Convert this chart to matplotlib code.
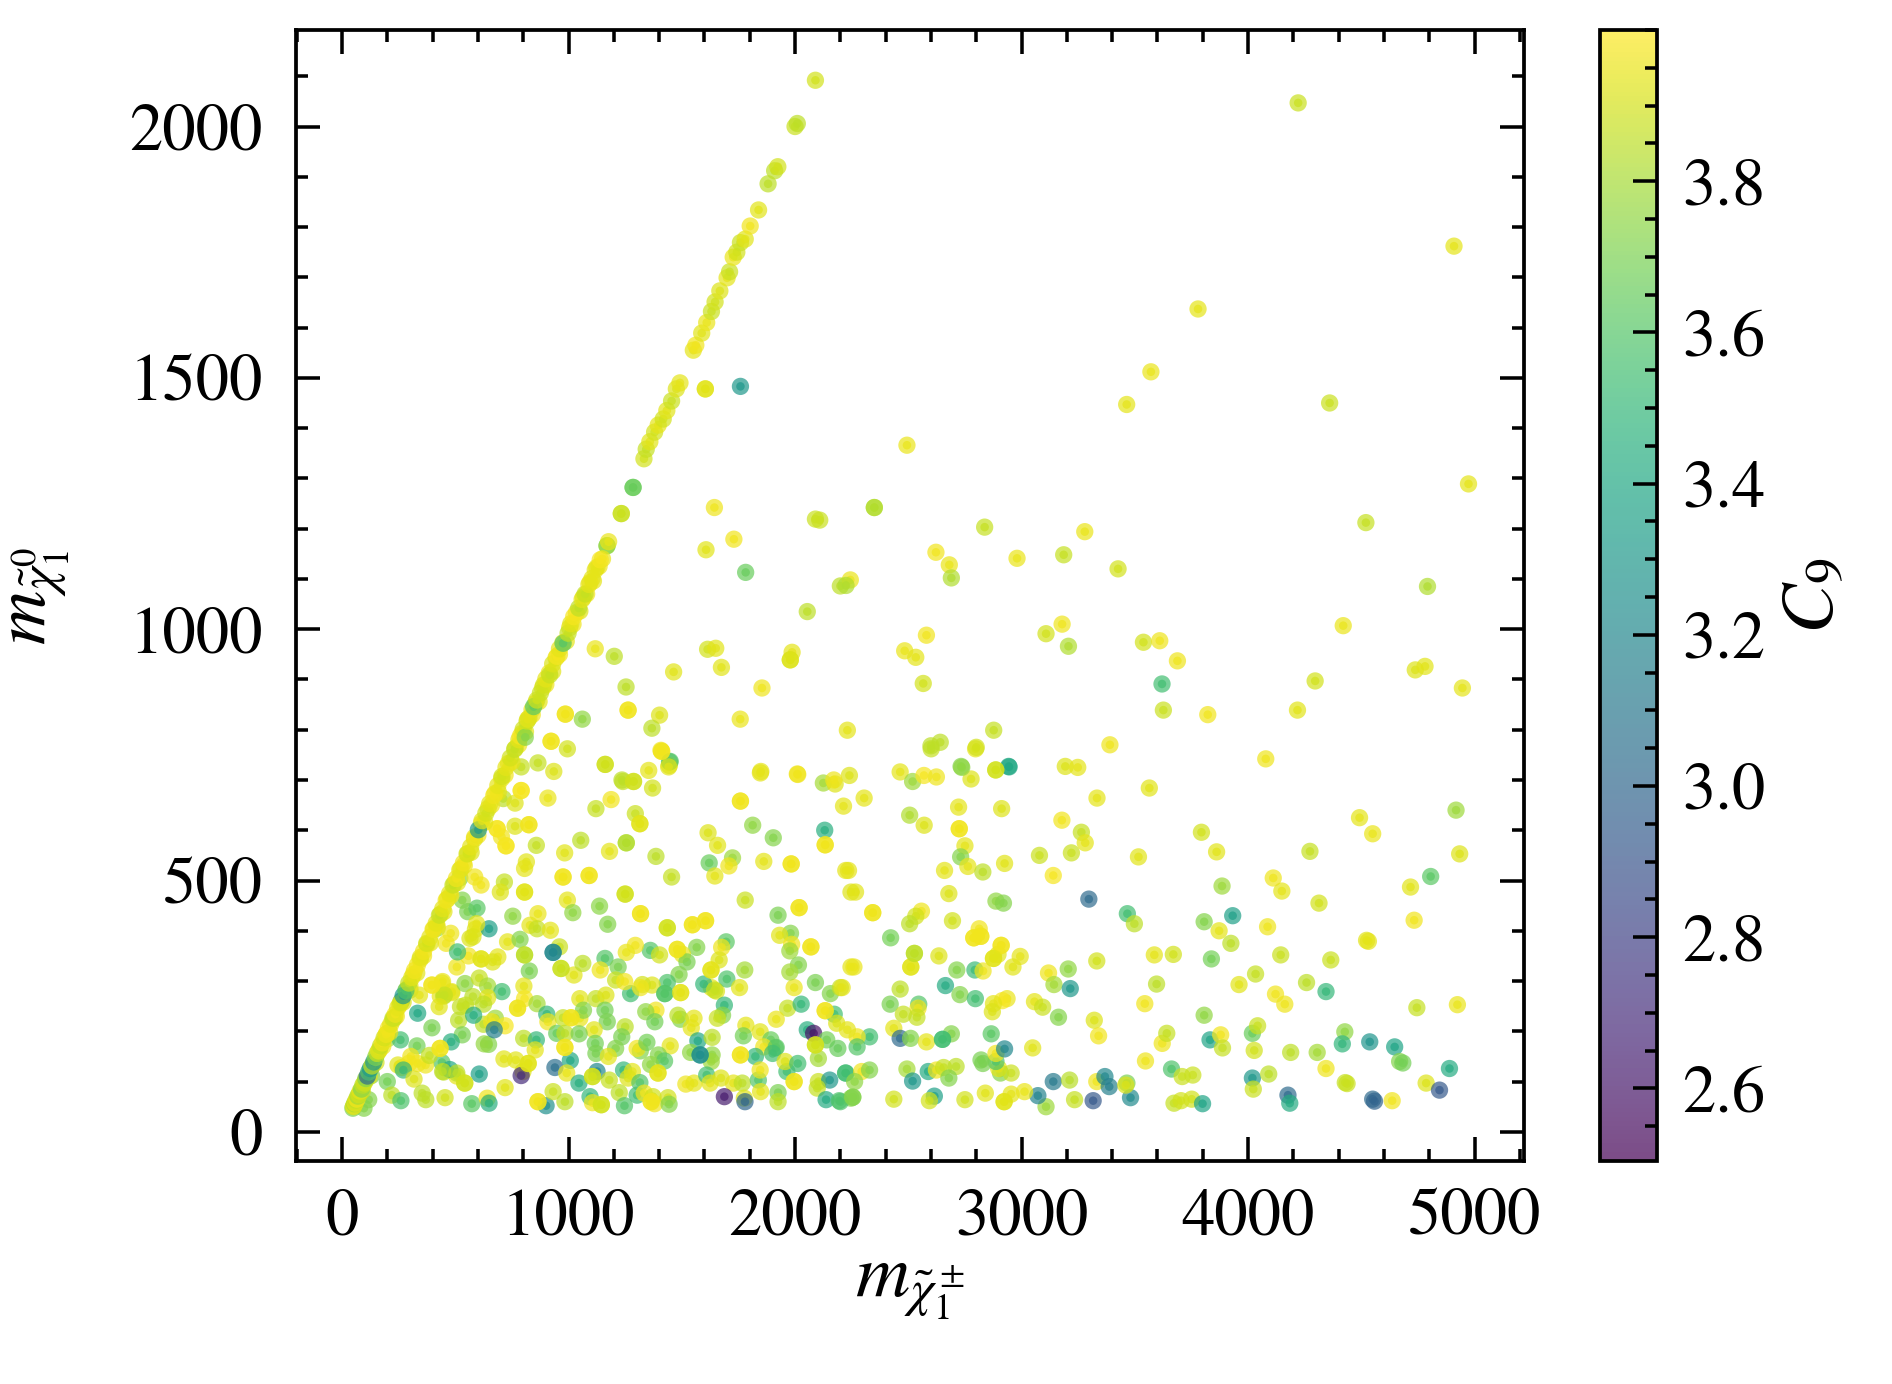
import numpy as np
import matplotlib
matplotlib.use("Agg")
import matplotlib.pyplot as plt
from matplotlib.ticker import MultipleLocator

plt.rcParams["font.family"] = "STIXGeneral"
plt.rcParams["mathtext.fontset"] = "stix"

# points sitting on the m_chi0 = m_chipm edge
diag_x = [48, 50, 52, 55, 58, 62, 66, 70, 75, 80, 86, 92, 98, 105, 112, 118, 125, 132, 140, 148,
          155, 162, 170, 178, 186, 195, 205, 215, 225, 235, 246, 258, 270, 282, 295, 308, 320, 333, 346, 360,
          374, 388, 402, 416, 430, 445, 460, 475, 490, 505, 520, 536, 552, 568, 585, 602, 618, 635, 652, 670]
diag_y = [47, 50, 51, 56, 57, 63, 65, 71, 74, 81, 85, 93, 97, 106, 111, 119, 126, 131, 139, 148,
          156, 161, 171, 177, 187, 194, 206, 214, 226, 234, 247, 257, 271, 281, 296, 307, 321, 332, 347, 359,
          375, 387, 403, 415, 431, 444, 461, 474, 491, 504, 521, 535, 553, 567, 586, 601, 619, 634, 653, 669]
diag_c = [3.7, 3.87, 3.94, 3.8, 3.94, 3.87, 3.97, 3.8, 3.9, 3.94, 3.72, 3.87, 3.9, 3.72, 3.02, 3.58, 3.3, 3.87, 3.3, 3.72,
          3.87, 3.94, 3.87, 3.97, 3.9, 3.97, 3.97, 3.94, 3.87, 3.97, 3.94, 3.9, 3.3, 3.58, 3.87, 3.94, 3.97, 3.97, 3.94, 3.97,
          3.9, 3.94, 3.97, 3.94, 3.87, 3.94, 3.97, 3.94, 3.87, 3.97, 3.94, 3.97, 3.9, 3.94, 3.97, 3.3, 3.94, 3.9, 3.94, 3.97]

diag2_x = [688, 706, 724, 743, 762, 781, 787, 800, 809, 817, 820, 839, 846, 860, 876, 890, 900, 917, 930, 949,
           960, 976, 998, 1010, 1023, 1045, 1060, 1073, 1090, 1104, 1118, 1140, 1177, 1233, 1285, 1333, 1343, 1359, 1380, 1396,
           1418, 1434, 1455, 1476, 1492, 1551, 1562, 1588, 1610, 1631, 1647, 1668, 1700, 1711, 1727, 1743, 1759, 1780, 1802, 1839,
           1881, 1910, 1924, 2000, 2010, 2090]
diag2_y = [689, 707, 725, 744, 761, 780, 787, 801, 785, 817, 821, 840, 846, 859, 873, 889, 901, 909, 931, 946,
           961, 972, 992, 1011, 1025, 1042, 1059, 1070, 1089, 1101, 1118, 1138, 1174, 1230, 1282, 1339, 1358, 1373, 1392, 1406,
           1418, 1435, 1454, 1478, 1490, 1555, 1565, 1589, 1610, 1632, 1651, 1673, 1699, 1711, 1740, 1750, 1769, 1776, 1802, 1834,
           1886, 1912, 1920, 2000, 2006, 2092]
diag2_c = [3.94, 3.9, 3.94, 3.9, 3.87, 3.94, 3.98, 3.9, 3.72, 3.88, 3.94, 3.94, 3.62, 3.9, 3.88, 3.9, 3.94, 3.87, 3.92, 3.98,
           3.94, 3.6, 3.87, 3.94, 3.98, 3.85, 3.94, 3.87, 3.94, 3.94, 3.94, 3.98, 3.95, 3.88, 3.65, 3.9, 3.87, 3.93, 3.9, 3.94,
           3.9, 3.93, 3.88, 3.92, 3.94, 3.94, 3.97, 3.93, 3.95, 3.88, 3.9, 3.92, 3.94, 3.88, 3.95, 3.9, 3.88, 3.93, 3.97, 3.93,
           3.85, 3.85, 3.9, 3.88, 3.85, 3.9]

# bright band along the edge, drawn last
diag3_x = [90, 120, 150, 180, 210, 240, 270, 300, 330, 360, 390, 420, 450, 480, 510, 540, 570, 600, 630, 660,
           690, 720, 750, 780, 810, 840, 870, 900, 930, 960, 990, 1020, 1050, 1080, 1110, 1135, 1150, 105, 135, 165,
           195, 225, 255, 285, 315, 345, 375, 405, 435, 465, 495, 525, 555, 585, 615, 645, 675, 705, 735, 765,
           795, 825, 855, 885, 915, 945, 975, 1005, 1035, 1065, 1095, 1125]
diag3_y = [82, 110, 138, 170, 198, 230, 258, 290, 316, 350, 376, 410, 438, 470, 496, 530, 556, 590, 616, 650,
           676, 710, 736, 770, 796, 830, 856, 890, 916, 950, 976, 1010, 1036, 1070, 1096, 1125, 1140, 103, 133, 163,
           193, 223, 253, 283, 313, 343, 373, 403, 433, 463, 493, 523, 553, 583, 613, 643, 673, 703, 733, 763,
           793, 823, 853, 883, 913, 943, 973, 1003, 1033, 1063, 1093, 1123]
diag3_c = [3.88, 3.93, 3.9, 3.96, 3.93, 3.97, 3.92, 3.96, 3.93, 3.97, 3.94, 3.96, 3.93, 3.97, 3.94, 3.96, 3.92, 3.97, 3.94, 3.96,
           3.93, 3.97, 3.94, 3.96, 3.92, 3.97, 3.94, 3.96, 3.93, 3.97, 3.94, 3.96, 3.92, 3.97, 3.94, 3.96, 3.95, 3.9, 3.88, 3.94,
           3.96, 3.93, 3.97, 3.94, 3.96, 3.92, 3.97, 3.94, 3.96, 3.93, 3.97, 3.94, 3.96, 3.92, 3.97, 3.94, 3.96, 3.93, 3.97, 3.94,
           3.96, 3.92, 3.97, 3.94, 3.96, 3.93, 3.97, 3.94, 3.96, 3.92, 3.97, 3.94]

# solid looking points (several models on top of each other)
stack_x = [1162, 1287, 791, 1315, 1759, 685, 724, 825, 1255, 2133, 1983, 976, 1091, 806, 1250, 1318, 2018, 1436, 1547, 1605,
           2070, 1629, 1480, 932, 614, 806, 967, 1425, 1495, 397, 775, 1011, 2133, 433, 984, 1581, 2090, 822, 1759, 1395,
           1106, 1996, 542, 865, 1145, 1365, 986, 1263, 923, 1411, 2350, 2343, 2725, 2789, 2820, 2910, 2876, 2511, 2527, 2651,
           2886, 2923, 2255, 1604, 1979, 1170]
stack_y = [731, 697, 679, 613, 658, 603, 569, 611, 575, 571, 533, 507, 510, 477, 473, 434, 446, 406, 412, 420,
           368, 322, 363, 357, 344, 352, 325, 275, 277, 292, 246, 227, 241, 166, 168, 153, 173, 136, 153, 117,
           110, 100, 97, 60, 54, 60, 831, 839, 777, 757, 1242, 436, 603, 386, 389, 371, 345, 328, 355, 184,
           720, 60, 69, 1478, 939, 1166]
stack_c = [3.89, 3.89, 3.98, 3.93, 3.97, 3.98, 3.98, 3.97, 3.83, 3.97, 3.97, 3.97, 3.97, 3.93, 3.9, 3.97, 3.97, 3.9, 3.97, 3.97,
           3.97, 3.94, 3.96, 3.2, 3.93, 3.85, 3.88, 3.6, 3.94, 3.97, 3.96, 3.96, 3.97, 3.97, 3.97, 3.25, 3.9, 3.93, 3.97, 3.94,
           3.9, 3.96, 3.9, 3.97, 3.9, 3.97, 3.97, 3.97, 3.97, 3.97, 3.83, 3.96, 3.97, 3.97, 3.97, 3.97, 3.93, 3.93, 3.85, 3.55,
           3.9, 3.93, 3.72, 3.93, 3.92, 3.75]

# x below 2250, y above 400
up_x = [791, 865, 935, 1354, 1449, 1445, 1408, 1240, 1371, 1849, 2010, 2125, 2177, 2240, 2214, 909, 1121, 1188, 1295, 712,
        764, 704, 764, 858, 1054, 983, 1181, 1386, 1616, 1658, 1813, 1904, 2131, 1621, 1724, 1708, 1646, 1862, 2224, 814,
        806, 1455, 586, 614, 717, 699, 995, 1019, 1137, 1780, 1925, 2247, 531, 555, 596, 754, 865, 1173, 830, 861,
        920, 649, 594, 1285, 1233, 1644, 2109, 1730, 1607, 1782, 2200, 2054, 1118, 1202, 1614, 1650, 1987, 1675, 1464, 1254,
        1854, 1061, 1402, 1368, 1758, 995, 1446, 1442, 1847, 2012, 1236, 2171]
up_y = [726, 734, 717, 719, 737, 729, 759, 697, 684, 717, 712, 694, 692, 709, 648, 664, 643, 661, 633, 663,
        654, 587, 608, 570, 580, 555, 558, 548, 595, 570, 610, 585, 600, 535, 545, 529, 509, 538, 520, 537,
        524, 507, 507, 491, 497, 477, 461, 436, 449, 461, 431, 477, 461, 438, 445, 429, 434, 413, 411, 404,
        401, 404, 414, 1282, 1230, 1242, 1217, 1179, 1158, 1113, 1086, 1035, 961, 946, 960, 962, 954, 924, 915, 885,
        883, 821, 829, 803, 821, 762, 736, 726, 714, 711, 700, 700]
up_c = [3.87, 3.87, 3.92, 3.94, 3.6, 3.92, 3.97, 3.87, 3.9, 3.94, 3.96, 3.8, 3.92, 3.92, 3.94, 3.95, 3.87, 3.97, 3.88, 3.85,
        3.92, 3.97, 3.92, 3.87, 3.85, 3.93, 3.94, 3.85, 3.92, 3.93, 3.75, 3.72, 3.45, 3.65, 3.78, 3.96, 3.94, 3.94, 3.94, 3.93,
        3.94, 3.87, 3.97, 3.97, 3.87, 3.92, 3.94, 3.75, 3.74, 3.88, 3.7, 3.92, 3.72, 3.7, 3.62, 3.75, 3.95, 3.72, 3.94, 3.87,
        3.94, 3.35, 3.94, 3.68, 3.88, 3.96, 3.88, 3.97, 3.93, 3.65, 3.85, 3.85, 3.95, 3.85, 3.9, 3.93, 3.94, 3.93, 3.93, 3.85,
        3.96, 3.75, 3.92, 3.85, 3.95, 3.9, 3.6, 3.93, 3.94, 3.97, 3.85, 3.96]

# x below 2250, y between 250 and 400
mid_x = [1980, 1932, 1985, 1977, 1696, 1676, 1665, 1566, 1503, 1523, 1361, 1402, 1295, 1255, 960, 688, 665, 558, 507, 480,
         460, 565, 578, 510, 731, 786, 1024, 1063, 1161, 1140, 1219, 827, 1778, 1699, 1597, 1645, 1755, 2015, 2247, 1488,
         1436, 1369, 1326, 1274, 1318, 1208, 1248, 444, 484, 452, 543, 606, 643, 706, 803, 1996, 2090, 2156, 2200, 578,
         643, 342, 263, 806, 861, 1050, 1121, 1165, 625, 1977]
mid_y = [395, 391, 373, 360, 378, 367, 342, 367, 353, 338, 361, 352, 371, 357, 368, 348, 338, 350, 328, 395,
         375, 385, 388, 358, 378, 383, 312, 335, 345, 322, 328, 320, 322, 304, 294, 282, 287, 332, 328, 313,
         297, 292, 293, 275, 287, 302, 299, 299, 279, 272, 295, 306, 290, 279, 290, 287, 297, 275, 287, 269,
         267, 272, 261, 265, 255, 265, 265, 272, 254, 318]
mid_c = [3.72, 3.93, 3.97, 3.78, 3.62, 3.96, 3.92, 3.72, 3.94, 3.7, 3.6, 3.9, 3.97, 3.95, 3.88, 3.94, 3.92, 3.97, 3.96, 3.96,
         3.97, 3.92, 3.92, 3.55, 3.94, 3.72, 3.93, 3.85, 3.6, 3.96, 3.7, 3.7, 3.8, 3.58, 3.5, 3.87, 3.93, 3.72, 3.94, 3.72,
         3.58, 3.92, 3.9, 3.55, 3.96, 3.88, 3.97, 3.95, 3.94, 3.87, 3.75, 3.87, 3.8, 3.55, 3.94, 3.95, 3.7, 3.72, 3.87, 3.85,
         3.93, 3.94, 3.2, 3.98, 3.8, 3.93, 3.87, 3.92, 3.85, 3.8]

# x below 2250, y below 250
low_x = [429, 546, 523, 1161, 1386, 1341, 904, 909, 976, 1050, 1066, 1483, 1554, 1542, 334, 1688, 1680, 1657, 1783, 1967,
         2027, 2173, 2184, 1917, 1381, 1171, 1113, 1250, 515, 581, 677, 720, 661, 672, 397, 232, 200, 531, 258, 331,
         482, 628, 802, 858, 853, 948, 984, 1047, 1118, 1121, 1235, 1208, 1176, 1303, 1346, 1449, 1571, 1634, 1539, 1634,
         1630, 1772, 1846, 1893, 1862, 1917, 1901, 1825, 2054, 2082, 2140, 2189, 2103, 304, 247, 295, 334, 369, 386, 271,
         476, 444, 507, 318, 200, 606, 715, 767, 799, 791, 940, 1008, 992, 1126, 1243, 1282, 1263, 1397, 1424, 1362,
         1315, 1180, 1046, 1224, 1518, 1554, 1610, 1625, 1673, 1728, 1767, 1838, 1846, 1964, 1956, 2012, 2103, 2153, 2224, 2098]
low_y = [249, 252, 249, 242, 242, 239, 234, 219, 227, 226, 242, 232, 226, 207, 236, 252, 232, 226, 212, 246,
         254, 234, 216, 224, 219, 219, 203, 209, 222, 232, 226, 211, 219, 203, 207, 227, 196, 193, 183, 171,
         179, 175, 186, 183, 163, 196, 196, 195, 176, 156, 189, 166, 150, 166, 178, 171, 181, 188, 158, 153,
         140, 191, 199, 183, 169, 168, 156, 150, 203, 196, 183, 166, 146, 150, 133, 136, 136, 133, 152, 123,
         124, 120, 117, 105, 100, 115, 145, 143, 120, 112, 128, 142, 117, 120, 123, 120, 107, 153, 141, 134,
         98, 103, 97, 78, 95, 97, 113, 97, 107, 97, 97, 103, 123, 120, 140, 136, 100, 103, 117, 87]
low_c = [3.93, 3.87, 3.87, 3.68, 3.97, 3.75, 3.5, 3.96, 3.87, 3.95, 3.72, 3.85, 3.94, 3.94, 3.4, 3.5, 3.72, 3.88, 3.94, 3.87,
         3.5, 3.55, 3.92, 3.95, 3.68, 3.7, 3.93, 3.85, 3.85, 3.45, 3.78, 3.98, 3.97, 3.15, 3.7, 3.82, 3.97, 3.7, 3.55, 3.68,
         3.45, 3.76, 3.85, 3.5, 3.94, 3.65, 3.85, 3.7, 3.68, 3.7, 3.7, 3.72, 3.94, 3.97, 3.68, 3.94, 3.4, 3.85, 3.75, 3.75,
         3.78, 3.68, 3.93, 3.65, 3.97, 3.62, 3.55, 3.5, 3.45, 2.58, 3.68, 3.65, 3.8, 3.96, 3.93, 3.97, 3.97, 3.96, 3.87, 3.5,
         3.4, 3.85, 3.85, 3.92, 3.68, 3.35, 3.93, 3.93, 3.92, 2.7, 3.05, 3.4, 3.95, 3.2, 3.5, 3.94, 3.92, 3.72, 3.62, 3.75,
         3.6, 3.87, 3.45, 3.85, 3.96, 3.94, 3.55, 3.94, 3.92, 3.94, 3.85, 3.6, 3.96, 3.55, 3.92, 3.55, 3.88, 3.3, 3.52, 3.87]

# lowest row, y below 90
floor_x = [1848, 1925, 1925, 1688, 1776, 1779, 2137, 2195, 2247, 720, 354, 370, 220, 260, 118, 97, 455, 573, 641, 649,
           901, 932, 984, 1095, 1106, 1247, 1303, 1334, 1373, 1380, 1439, 1444]
floor_y = [80, 78, 60, 70, 67, 60, 64, 62, 67, 88, 77, 64, 73, 62, 64, 47, 68, 56, 67, 57,
           52, 80, 60, 70, 58, 52, 73, 77, 70, 56, 68, 55]
floor_c = [3.94, 3.7, 3.85, 2.62, 3.92, 3.0, 3.42, 3.58, 3.72, 3.93, 3.85, 3.85, 3.85, 3.58, 3.72, 3.72, 3.9, 3.62, 3.96, 3.45,
           3.25, 3.88, 3.85, 3.5, 3.96, 3.6, 3.55, 3.97, 3.9, 3.97, 3.9, 3.72]

# picked up on the second look at the dense corner
extra_x = [265, 441, 449, 507, 434, 485, 449, 625, 647, 589, 1494, 1630, 1653, 1317, 1913, 441, 130, 200, 300, 420, 520]
extra_y = [128, 138, 119, 111, 270, 277, 270, 214, 174, 403, 224, 287, 280, 161, 167, 296, 112, 185, 282, 405, 505]
extra_c = [3.96, 3.6, 3.85, 3.94, 3.94, 3.93, 3.87, 3.85, 3.72, 3.92, 3.72, 3.94, 3.92, 3.72, 3.62, 3.94, 3.72, 3.8, 3.72, 3.8, 3.72]

# x from 2250 to 3000
right_x = [2601, 2797, 2464, 2519, 2569, 2624, 2733, 2777, 2943, 2305, 2506, 2570, 2722, 2912, 2750, 2731, 2763, 2829, 2925, 2660,
           2236, 2679, 2267, 2558, 2533, 2506, 2695, 2887, 2920, 2422, 2635, 2260, 2714, 2794, 2830, 2664, 2728, 2796, 2464, 2208,
           2813, 2896, 2994, 2962, 2936, 2915, 2876, 2871, 2420, 2546, 2543, 2478, 2538, 2436, 2464, 2510, 2580, 2690, 2866, 2329,
           2274, 2274, 2231, 2907, 2899, 2887, 2829, 2821, 2887, 2925, 2494, 2588, 2624, 2656, 2711, 2679, 2519, 2223, 2294, 2329,
           2263, 2954, 2840, 2615, 2436, 2200, 2954, 2593, 2750]
right_y = [762, 762, 716, 697, 709, 706, 727, 702, 727, 664, 630, 610, 646, 643, 569, 547, 528, 517, 534, 520,
           520, 474, 477, 439, 429, 414, 420, 459, 455, 386, 350, 328, 322, 322, 320, 291, 273, 265, 284, 287,
           404, 353, 349, 328, 265, 261, 255, 239, 254, 254, 246, 234, 228, 206, 186, 186, 179, 195, 195, 189,
           189, 169, 203, 117, 126, 140, 136, 143, 156, 165, 125, 120, 123, 128, 130, 107, 101, 117, 120, 123,
           100, 117, 77, 71, 65, 60, 75, 62, 64]
right_c = [3.87, 3.94, 3.94, 3.78, 3.98, 3.96, 3.72, 3.92, 3.4, 3.94, 3.82, 3.92, 3.94, 3.92, 3.94, 3.72, 3.94, 3.85, 3.93, 3.94,
           3.94, 3.92, 3.93, 3.96, 3.9, 3.85, 3.9, 3.75, 3.72, 3.68, 3.92, 3.95, 3.72, 3.52, 3.96, 3.42, 3.72, 3.55, 3.85, 3.94,
           3.97, 3.93, 3.94, 3.93, 3.95, 3.98, 3.94, 3.92, 3.7, 3.6, 3.97, 3.87, 3.87, 3.94, 3.02, 3.72, 3.94, 3.72, 3.62, 3.55,
           3.96, 3.6, 3.94, 3.72, 3.94, 3.58, 3.7, 3.7, 3.97, 3.2, 3.8, 3.42, 3.97, 3.87, 3.85, 3.72, 3.3, 3.55, 3.97, 3.72,
           3.75, 3.88, 3.93, 3.35, 3.9, 3.58, 3.94, 3.9, 3.9]

# x above 3000, y below 700
far_x = [3178, 3264, 3281, 3220, 3079, 3140, 3516, 3794, 3861, 4111, 4149, 4313, 4273, 4492, 4550, 3297, 3467, 3498, 3885, 3932,
         3806, 3872, 3924, 3838, 3960, 4033, 4144, 4086, 4365, 4523, 4121, 4162, 4258, 4344, 3806, 3586, 3670, 3596, 3544, 3321,
         3340, 3332, 3119, 3143, 3206, 3215, 3057, 3093, 3163, 3049, 3621, 3641, 3832, 3879, 3887, 4019, 4042, 4027, 4188, 4305,
         4427, 4416, 4537, 4647, 4669, 3547, 3662, 3709, 3756, 4019, 4091, 4344, 4429, 4023, 4176, 4184, 4550, 4636, 3673, 3704,
         3751, 3799, 3481, 3316, 3234, 3108, 3072, 3013, 3140, 3212, 3332, 3368, 3387, 3465, 3460, 4918, 4934, 4806, 4717, 4733,
         4531, 4924, 4745, 4683, 4889, 4786, 4845, 4558, 4437, 3564, 3333]
far_y = [620, 596, 575, 555, 550, 510, 547, 596, 557, 505, 479, 455, 558, 625, 593, 463, 434, 414, 489, 430,
         418, 400, 375, 344, 293, 314, 352, 408, 342, 381, 274, 254, 297, 279, 232, 352, 353, 294, 255, 222,
         191, 340, 316, 293, 324, 285, 259, 248, 228, 167, 176, 196, 183, 193, 167, 196, 211, 162, 158, 158,
         199, 175, 179, 169, 140, 141, 125, 110, 113, 107, 115, 126, 98, 85, 73, 57, 65, 62, 57, 62,
         65, 56, 68, 62, 64, 50, 72, 80, 100, 103, 100, 110, 90, 97, 93, 640, 553, 508, 487, 421,
         379, 253, 247, 137, 126, 97, 83, 61, 96, 684, 664]
far_c = [3.97, 3.87, 3.94, 3.88, 3.88, 3.98, 3.93, 3.9, 3.93, 3.96, 3.94, 3.9, 3.87, 3.94, 3.95, 3.02, 3.55, 3.85, 3.78, 3.35,
         3.72, 3.94, 3.85, 3.68, 3.93, 3.87, 3.88, 3.96, 3.88, 3.93, 3.97, 3.96, 3.85, 3.5, 3.75, 3.94, 3.9, 3.85, 3.97, 3.92,
         3.97, 3.9, 3.96, 3.8, 3.75, 3.3, 3.94, 3.88, 3.72, 3.93, 3.96, 3.87, 3.38, 3.97, 3.87, 3.65, 3.88, 3.9, 3.85, 3.8,
         3.75, 3.48, 3.28, 3.38, 3.72, 3.96, 3.58, 3.88, 3.88, 3.3, 3.85, 3.96, 3.87, 3.88, 3.02, 3.42, 3.02, 3.97, 3.87, 3.9,
         3.9, 3.38, 3.22, 2.92, 3.87, 3.78, 3.18, 3.95, 3.12, 3.84, 3.96, 3.2, 3.15, 3.7, 3.92, 3.78, 3.92, 3.62, 3.93, 3.97,
         3.94, 3.95, 3.87, 3.68, 3.42, 3.92, 2.92, 2.98, 3.88, 3.93, 3.94]

# sparse top right corner
top_x = [2600, 3193, 3248, 3390, 4078, 2736, 2945, 2837, 3279, 2622, 2681, 2690, 2980, 3186, 3426, 2244, 2225, 3179, 3108, 3207,
         2580, 2484, 2533, 2566, 3538, 3610, 3688, 3620, 4296, 3626, 3822, 4218, 4420, 2877, 2641, 2800, 2231, 4221, 4909, 3779,
         3571, 3464, 4360, 4973, 4520, 2494, 4738, 4781, 4946, 4792, 1759, 2090]
top_y = [768, 727, 725, 770, 742, 725, 726, 1203, 1194, 1153, 1128, 1102, 1141, 1148, 1120, 1098, 1087, 1010, 991, 966,
         988, 957, 944, 892, 974, 977, 937, 891, 897, 839, 830, 839, 1007, 799, 775, 765, 799, 2047, 1762, 1637,
         1512, 1447, 1450, 1289, 1212, 1366, 919, 926, 883, 1085, 1483, 1219]
top_c = [3.85, 3.92, 3.94, 3.96, 3.96, 3.75, 3.4, 3.87, 3.95, 3.97, 3.95, 3.82, 3.95, 3.87, 3.9, 3.95, 3.82, 3.96, 3.9, 3.82,
         3.97, 3.95, 3.94, 3.9, 3.9, 3.96, 3.96, 3.55, 3.9, 3.88, 3.97, 3.93, 3.95, 3.87, 3.85, 3.9, 3.94, 3.88, 3.94, 3.94,
         3.95, 3.94, 3.88, 3.94, 3.87, 3.95, 3.92, 3.93, 3.94, 3.82, 3.3, 3.88]

groups = [
    (extra_x, extra_y, extra_c),
    (up_x, up_y, up_c),
    (mid_x, mid_y, mid_c),
    (low_x, low_y, low_c),
    (floor_x, floor_y, floor_c),
    (right_x, right_y, right_c),
    (far_x, far_y, far_c),
    (top_x, top_y, top_c),
    (stack_x, stack_y, stack_c),
    (stack_x, stack_y, stack_c),
    (diag3_x, diag3_y, diag3_c),
    (diag_x, diag_y, diag_c),
    (diag2_x, diag2_y, diag2_c),
]
chargino = np.concatenate([g[0] for g in groups])
neutralino = np.concatenate([g[1] for g in groups])
c9 = np.concatenate([g[2] for g in groups])

W, H = 1893, 1384
fig = plt.figure(figsize=(W / 300, H / 300), dpi=300)
ax = fig.add_axes([296 / W, 1 - 1161 / H, (1524 - 296) / W, (1161 - 30) / H])
cax = fig.add_axes([1600 / W, 1 - 1161 / H, (1657 - 1600) / W, (1161 - 30) / H])

sc = ax.scatter(chargino, neutralino, c=c9, cmap="viridis", vmin=2.504, vmax=4.0,
                s=4.2, alpha=0.7, linewidths=2.1, edgecolors="face")

ax.set_xlim(-203, 5218)
ax.set_ylim(-58, 2192)
ax.xaxis.set_major_locator(MultipleLocator(1000))
ax.xaxis.set_minor_locator(MultipleLocator(200))
ax.yaxis.set_major_locator(MultipleLocator(500))
ax.yaxis.set_minor_locator(MultipleLocator(100))
ax.tick_params(which="both", direction="in", top=True, right=True, width=0.85, labelsize=16)
ax.tick_params(which="major", length=5.8)
ax.tick_params(which="minor", length=2.8)
ax.tick_params(axis="x", which="major", pad=6.5)
ax.tick_params(axis="y", which="major", pad=8)
for s in ax.spines.values():
    s.set_linewidth(0.9)

ax.set_xlabel(r"$m_{\tilde{\chi}_1^\pm}$", fontsize=18, labelpad=1)
ax.set_ylabel(r"$m_{\tilde{\chi}_1^0}$", fontsize=18, labelpad=14)

cb = fig.colorbar(sc, cax=cax)
cb.set_ticks(np.arange(2.6, 3.81, 0.2))
cb.ax.yaxis.set_minor_locator(MultipleLocator(0.05))
cb.ax.tick_params(which="both", direction="in", width=0.85, labelsize=16, right=True, left=False)
cb.ax.tick_params(which="major", length=5.8, pad=6)
cb.ax.tick_params(which="minor", length=2.8)
cb.outline.set_linewidth(0.9)
cb.set_label(r"$C_9$", fontsize=18, labelpad=4)

fig.savefig("out.png", dpi=300)
